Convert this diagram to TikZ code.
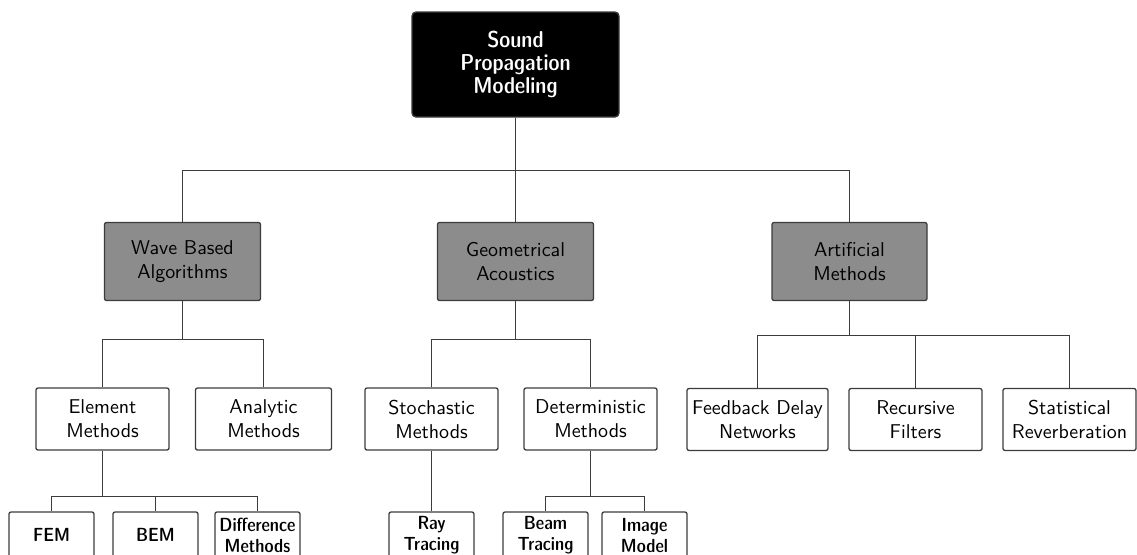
\documentclass[tikz,border=0pt]{standalone}
\usepackage{color,graphicx}
\usetikzlibrary{arrows,positioning}
\definecolor{boxgray}{RGB}{140,140,140}
\definecolor{linegray}{RGB}{60,60,60}

\begin{document}
\begin{tikzpicture}[x=0.5pt,y=-0.5pt,font=\sffamily]
\tikzstyle{rr} = [rectangle, rounded corners=1pt, align=center, inner sep=0pt, draw=linegray, line width=0.65pt, fill=white]
\tikzstyle{top} = [rr, rounded corners=2pt, fill=black, text=white, minimum width=103.5pt, minimum height=52.5pt, font=\sffamily\fontsize{11.5}{11.5}\fontseries{sbc}\selectfont]
\tikzstyle{cls} = [rr, fill=boxgray, minimum width=78pt, minimum height=39pt]
\tikzstyle{meth} = [rr, minimum width=66.5pt, minimum height=31pt]
\tikzstyle{leaf} = [rr, minimum width=42.5pt, minimum height=23pt, font=\sffamily\fontsize{9.5}{10.5}\fontseries{sbc}\selectfont]
\tikzstyle{ln} = [draw=linegray, line width=0.55pt]
\clip (0,0) rectangle (1137,554);
\node (Top) [top] at (515.5,64.5) {Sound\\Propagation\\Modeling};
\node (Wave) [cls] at (182.5,261.5) {Wave Based\\Algorithms};
\node (Geo) [cls] at (515.5,261.5) {Geometrical\\Acoustics};
\node (Art) [cls, minimum width=77.5pt] at (849.5,261.5) {Artificial\\Methods};
\node (Elem) [meth] at (102.5,419) {Element\\Methods};
\node (Anal) [meth, minimum width=68pt] at (263.5,419) {Analytic\\Methods};
\node (Stoch) [meth] at (431.5,419) {Stochastic\\Methods};
\node (Det) [meth] at (590.5,419) {Deterministic\\Methods};
\node (FDN) [meth, minimum width=70.5pt] at (757.5,419.5) {Feedback Delay\\Networks};
\node (Rec) [meth] at (915.5,419.5) {Recursive\\Filters};
\node (Stat) [meth] at (1069.5,419.5) {Statistical\\Reverberation};
\node (FEM) [leaf] at (51.5,535) {FEM};
\node (BEM) [leaf] at (155.5,535) {BEM};
\node (Diff) [leaf] at (257.5,535) {Difference\\Methods};
\node (Ray) [leaf] at (431.5,535) {Ray\\Tracing};
\node (Beam) [leaf] at (545.5,535) {Beam\\Tracing};
\node (Img) [leaf] at (644.5,535) {Image\\Model};
\draw [ln] (Top.south) -- ++(0,53) -| (Wave.north);
\draw [ln] (Top.south) -- (Geo.north);
\draw [ln] (Top.south) -- ++(0,53) -| (Art.north);
\draw [ln] (Wave.south) -- ++(0,38) -| (Elem.north);
\draw [ln] (Wave.south) -- ++(0,38) -| (Anal.north);
\draw [ln] (Geo.south) -- ++(0,38) -| (Stoch.north);
\draw [ln] (Geo.south) -- ++(0,38) -| (Det.north);
\draw [ln] (Art.south) -- ++(0,34) -| (FDN.north);
\draw [ln] (Art.south) -- ++(0,34) -| (Rec.north);
\draw [ln] (Art.south) -- ++(0,34) -| (Stat.north);
\draw [ln] (Elem.south) -- ++(0,46) -| (FEM.north);
\draw [ln] (Elem.south) -- ++(0,46) -| (BEM.north);
\draw [ln] (Elem.south) -- ++(0,46) -| (Diff.north);
\draw [ln] (Stoch.south) -- (Ray.north);
\draw [ln] (Det.south) -- ++(0,46) -| (Beam.north);
\draw [ln] (Det.south) -- ++(0,46) -| (Img.north);
\end{tikzpicture}
\end{document}
